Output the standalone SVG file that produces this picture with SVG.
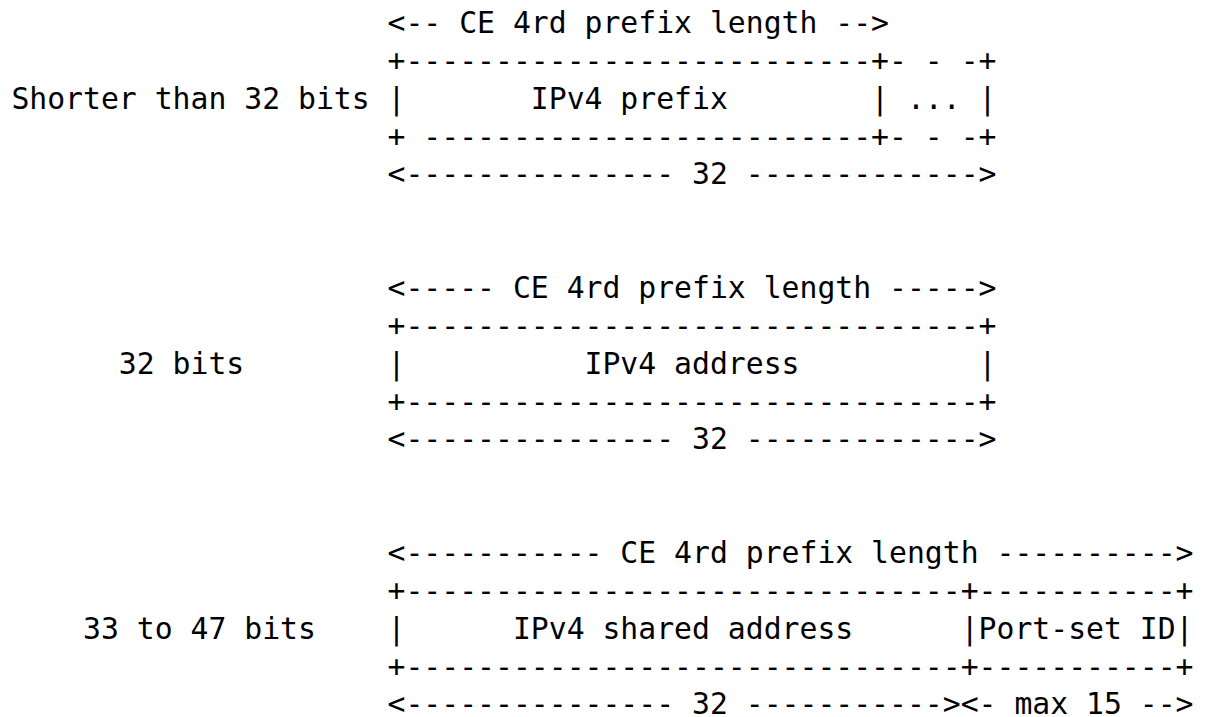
<svg xmlns="http://www.w3.org/2000/svg" width="1210" height="717" viewBox="0 0 1210 717">
<style>
text{font-family:"DejaVu Sans Mono","Liberation Mono",monospace;font-size:29.76px;fill:#000;white-space:pre}
</style>
<rect width="1210" height="717" fill="#fff"/>
<g id="block-shorter">
<text x="11.4" y="33" xml:space="preserve">                     &lt;-- CE 4rd prefix length --&gt;</text>
<text x="11.4" y="70.9" xml:space="preserve">                     +--------------------------+- - -+</text>
<text x="11.4" y="108.7" xml:space="preserve">Shorter than 32 bits |       IPv4 prefix        | ... |</text>
<text x="11.4" y="146.6" xml:space="preserve">                     + -------------------------+- - -+</text>
<text x="11.4" y="184.4" xml:space="preserve">                     &lt;--------------- 32 -------------&gt;</text>
</g>
<g id="block-32">
<text x="11.4" y="298" xml:space="preserve">                     &lt;----- CE 4rd prefix length -----&gt;</text>
<text x="11.4" y="335.8" xml:space="preserve">                     +--------------------------------+</text>
<text x="11.4" y="373.7" xml:space="preserve">      32 bits        |          IPv4 address          |</text>
<text x="11.4" y="411.5" xml:space="preserve">                     +--------------------------------+</text>
<text x="11.4" y="449.4" xml:space="preserve">                     &lt;--------------- 32 -------------&gt;</text>
</g>
<g id="block-33-47">
<text x="11.4" y="562.9" xml:space="preserve">                     &lt;----------- CE 4rd prefix length ----------&gt;</text>
<text x="11.4" y="600.8" xml:space="preserve">                     +-------------------------------+-----------+</text>
<text x="11.4" y="638.6" xml:space="preserve">    33 to 47 bits    |      IPv4 shared address      |Port-set ID|</text>
<text x="11.4" y="676.5" xml:space="preserve">                     +-------------------------------+-----------+</text>
<text x="11.4" y="714.3" xml:space="preserve">                     &lt;--------------- 32 -----------&gt;&lt;- max 15 --&gt;</text>
</g>
<g id="connectors"/>
</svg>
